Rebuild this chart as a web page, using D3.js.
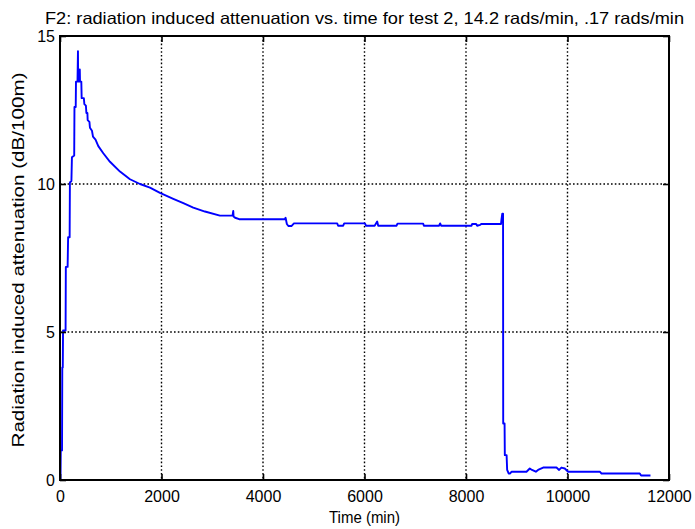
<!DOCTYPE html>
<html>
<head>
<meta charset="utf-8">
<script src="https://cdn.jsdelivr.net/npm/d3@7"></script>
<style>
  body { margin: 0; background: #fff; }
  text { font-family: "Liberation Sans", Arial, Helvetica, sans-serif; fill: #000; }
</style>
</head>
<body>
<svg id="chart" width="695" height="529"></svg>
<script>
// valeurs
var titre = "F2: radiation induced attenuation vs. time for test 2, 14.2 rads/min, .17 rads/min";
var labelX = "Time (min)";
var labelY = "Radiation induced attenuation (dB/100m)";
var ticksX = [0, 2000, 4000, 6000, 8000, 10000, 12000];
var ticksY = [0, 5, 10, 15];

var temps = [0, 10, 15, 40, 45, 55, 60, 110, 115, 150, 160, 190, 195, 225, 235, 280, 285, 310, 315, 345,
  354, 358, 385, 390, 394, 420, 427, 470, 480, 510, 520, 540, 545, 580, 590, 630, 650, 700, 755, 853,
  985, 1182, 1379, 1576, 1773, 1970, 2232, 2430, 2626, 2856, 3151, 3400, 3414, 3420, 3450, 3530, 4432, 4445, 4470, 4500,
  4560, 4610, 5462, 5480, 5580, 5600, 6008, 6030, 6200, 6250, 6270, 6632, 6650, 7157, 7170, 7470, 7490, 7510, 8109, 8120,
  8200, 8220, 8280, 8300, 8690, 8700, 8715, 8730, 8733, 8760, 8765, 8800, 8811, 8840, 8870, 8900, 9192, 9257, 9300, 9376,
  9420, 9520, 9783, 9835, 9880, 9947, 10012, 10636, 10670, 11424, 11450, 11635];
var attenuation = [0, 0, 1.0, 1.0, 3.8, 3.8, 5.05, 5.05, 7.2, 7.2, 8.2, 8.2, 10.05, 10.1, 10.9, 10.96, 12.6, 12.6, 13.46, 13.46,
  14.49, 13.46, 13.46, 13.87, 13.46, 13.46, 12.9, 12.9, 12.7, 12.65, 12.4, 12.4, 12.16, 12.1, 11.9, 11.8, 11.6, 11.5, 11.28, 11.04,
  10.75, 10.42, 10.16, 10.0, 9.88, 9.7, 9.5, 9.35, 9.2, 9.07, 8.93, 8.93, 9.09, 8.9, 8.86, 8.81, 8.81, 8.86, 8.65, 8.58,
  8.58, 8.67, 8.67, 8.59, 8.59, 8.67, 8.67, 8.59, 8.59, 8.73, 8.59, 8.59, 8.66, 8.66, 8.59, 8.59, 8.67, 8.59, 8.59, 8.65,
  8.65, 8.59, 8.62, 8.65, 8.65, 8.81, 9.0, 9.0, 1.91, 1.91, 0.84, 0.84, 0.34, 0.22, 0.22, 0.28, 0.28, 0.39, 0.34, 0.28,
  0.34, 0.42, 0.42, 0.34, 0.42, 0.39, 0.28, 0.28, 0.22, 0.22, 0.15, 0.15];

var svg = d3.select("#chart");
var margin = { top: 36, right: 26, bottom: 49, left: 60 },
    width = +svg.attr("width") - margin.left - margin.right,
    height = +svg.attr("height") - margin.top - margin.bottom,
    g = svg.append("g").attr("transform", "translate(" + margin.left + "," + margin.top + ")");

var x = d3.scaleLinear().domain([0, 12000]).range([0, width]);
var y = d3.scaleLinear().domain([0, 15]).range([height, 0]);

// grille pointillée
g.append("g").selectAll("line")
  .data(ticksX.slice(1, -1)).enter().append("line")
  .attr("x1", function(d) { return x(d); }).attr("x2", function(d) { return x(d); })
  .attr("y1", 0).attr("y2", height)
  .attr("stroke", "#000").attr("stroke-width", 1.4).attr("stroke-dasharray", "1.6,2.2");
g.append("g").selectAll("line")
  .data(ticksY.slice(1, -1)).enter().append("line")
  .attr("y1", function(d) { return y(d); }).attr("y2", function(d) { return y(d); })
  .attr("x1", 0).attr("x2", width)
  .attr("stroke", "#000").attr("stroke-width", 1.4).attr("stroke-dasharray", "1.6,2.2");

// courbe
var donnees = temps.map(function(t, i) { return [t, attenuation[i]]; });
g.append("path")
  .datum(donnees)
  .attr("fill", "none")
  .attr("stroke", "#0000ff")
  .attr("stroke-width", 1.9)
  .attr("stroke-linejoin", "round")
  .attr("d", d3.line().x(function(d) { return x(d[0]); }).y(function(d) { return y(d[1]); }));

// axes, graduations vers l'intérieur sur les quatre côtés
function style(sel) {
  sel.select(".domain").remove();
  sel.selectAll(".tick line").attr("stroke", "#000").attr("stroke-width", 1.6);
  sel.selectAll(".tick text").style("font-size", "16px");
}
g.append("g").attr("transform", "translate(0," + height + ")")
  .call(d3.axisBottom(x).tickValues(ticksX).tickFormat(d3.format("d")).tickSizeInner(-6).tickPadding(11))
  .call(style);
g.append("g")
  .call(d3.axisLeft(y).tickValues(ticksY).tickSizeInner(-6).tickPadding(5))
  .call(style);
g.append("g")
  .call(d3.axisTop(x).tickValues(ticksX).tickFormat("").tickSizeInner(-6))
  .call(style);
g.append("g").attr("transform", "translate(" + width + ",0)")
  .call(d3.axisRight(y).tickValues(ticksY).tickFormat("").tickSizeInner(-6))
  .call(style);

g.append("rect")
  .attr("width", width).attr("height", height)
  .attr("fill", "none").attr("stroke", "#000").attr("stroke-width", 2);

// textes
svg.append("text")
  .attr("x", margin.left + width / 2).attr("y", 24)
  .attr("text-anchor", "middle")
  .attr("textLength", 639).attr("lengthAdjust", "spacingAndGlyphs")
  .style("font-size", "16.5px")
  .text(titre);
svg.append("text")
  .attr("x", margin.left + width / 2).attr("y", 523)
  .attr("text-anchor", "middle")
  .attr("textLength", 71).attr("lengthAdjust", "spacingAndGlyphs")
  .style("font-size", "16px")
  .text(labelX);
svg.append("text")
  .attr("transform", "translate(24," + (margin.top + height / 2 + 2) + ") rotate(-90)")
  .attr("text-anchor", "middle")
  .attr("textLength", 375).attr("lengthAdjust", "spacingAndGlyphs")
  .style("font-size", "16.5px")
  .text(labelY);
</script>
</body>
</html>
